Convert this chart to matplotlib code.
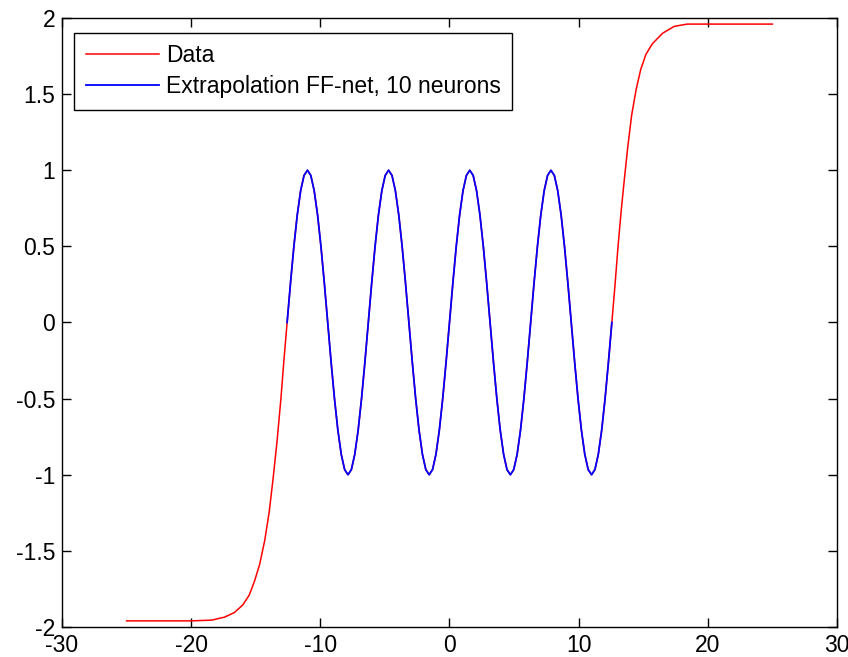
# Data vs. FF-net extrapolation, MATLAB-style figure

import numpy as np
import matplotlib
matplotlib.use('Agg')
import matplotlib.pyplot as plt

plt.rcParams['font.family'] = ['Liberation Sans', 'DejaVu Sans']
plt.rcParams['axes.unicode_minus'] = False

# red tails outside the sine part
left_x = [-25.0, -20.0, -18.4, -17.4, -16.65, -16.0, -15.5, -15.1, -14.7,
          -14.3, -13.95, -13.65, -13.35, -13.05, -12.8]
left_y = [-1.96, -1.96, -1.955, -1.935, -1.905, -1.855, -1.79, -1.70, -1.59,
          -1.43, -1.24, -1.02, -0.78, -0.50, -0.23]
right_x = [12.8, 13.05, 13.3, 13.55, 13.8, 14.1, 14.45, 14.8, 15.2, 15.7,
           16.5, 17.4, 18.4, 25.0]
right_y = [0.23, 0.50, 0.74, 0.95, 1.15, 1.36, 1.53, 1.66, 1.76, 1.83,
           1.90, 1.945, 1.96, 1.96]

# middle part (four full waves between about -12.57 and 12.57)
mid_x = np.linspace(-12.57, 12.57, 97)
mid_y = [
    0.0, 0.259, 0.5, 0.707, 0.866, 0.966, 1.0, 0.966, 0.866, 0.707, 0.5, 0.259,
    0.0, -0.259, -0.5, -0.707, -0.866, -0.966, -1.0, -0.966, -0.866, -0.707, -0.5, -0.259,
    0.0, 0.259, 0.5, 0.707, 0.866, 0.966, 1.0, 0.966, 0.866, 0.707, 0.5, 0.259,
    0.0, -0.259, -0.5, -0.707, -0.866, -0.966, -1.0, -0.966, -0.866, -0.707, -0.5, -0.259,
    0.0, 0.259, 0.5, 0.707, 0.866, 0.966, 1.0, 0.966, 0.866, 0.707, 0.5, 0.259,
    0.0, -0.259, -0.5, -0.707, -0.866, -0.966, -1.0, -0.966, -0.866, -0.707, -0.5, -0.259,
    0.0, 0.259, 0.5, 0.707, 0.866, 0.966, 1.0, 0.966, 0.866, 0.707, 0.5, 0.259,
    0.0, -0.259, -0.5, -0.707, -0.866, -0.966, -1.0, -0.966, -0.866, -0.707, -0.5, -0.259,
    0.0,
]

data_x = np.concatenate([left_x, mid_x, right_x])
data_y = np.concatenate([left_y, mid_y, right_y])

fig = plt.figure(figsize=(8.48, 6.57), dpi=100)
ax = fig.add_axes([0.0731, 0.0457, 0.9139, 0.9269])

ax.plot(data_x, data_y, color='r', linewidth=1.1, label='Data')
ax.plot(mid_x, mid_y, color='b', linewidth=1.3, label='Extrapolation FF-net, 10 neurons')

ax.set_xlim(-30, 30)
ax.set_ylim(-2, 2)
ax.set_xticks(np.arange(-30, 31, 10))
ax.set_yticks(np.arange(-2, 2.01, 0.5))
ax.set_yticklabels(['-2', '-1.5', '-1', '-0.5', '0', '0.5', '1', '1.5', '2'])

ax.tick_params(direction='in', length=6.5, width=1, top=True, right=True,
               labelsize=16.5, pad=5)
for s in ax.spines.values():
    s.set_linewidth(1)

leg = ax.legend(loc='upper left', bbox_to_anchor=(0.016, 0.976), fontsize=16.5,
                fancybox=False, edgecolor='k', framealpha=1,
                handlelength=3.2, handletextpad=0.3, borderpad=0.5,
                labelspacing=0.36, borderaxespad=0)
leg.get_frame().set_linewidth(1)

fig.savefig('out.png', dpi=100)
